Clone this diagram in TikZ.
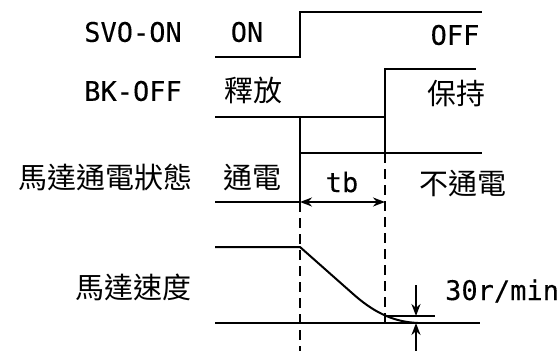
\documentclass[tikz,border=0pt]{standalone}
\usepackage{fontspec}
\setmainfont{Noto Sans CJK TC}
\newfontfamily\monofam[FakeBold=0.2]{DejaVu Sans Mono}
\usetikzlibrary{arrows.meta}
\tikzset{
  cjk/.style={inner sep=0pt,font=\fontsize{29}{32}\selectfont},
  lat/.style={inner sep=0pt,font=\monofam\fontsize{27}{30}\selectfont},
  wave/.style={line width=2pt},
  guide/.style={line width=2pt,dash pattern=on 10pt off 6pt},
  dimarrow/.style={line width=2pt,-{Stealth[length=12pt,width=9pt]}},
  dimboth/.style={line width=2pt,{Stealth[length=12pt,width=9pt]}-{Stealth[length=12pt,width=9pt]}}
}
\begin{document}
\begin{tikzpicture}[x=1pt,y=-1pt]
\useasboundingbox (0,0) rectangle (560,351);
% coordinates
\coordinate (t1a) at (300,57);
\coordinate (t1b) at (300,12);
\coordinate (t2a) at (385,117);
\coordinate (t2b) at (385,69);
% labels
\node[lat,anchor=east] (svo) at (182,32) {SVO-ON};
\node[lat] (on) at (247,32) {ON};
\node[lat] (off) at (455,35) {OFF};
\node[lat,anchor=east] (bk) at (182,91) {BK-OFF};
\node[cjk] (rel) at (253,90) {釋放};
\node[cjk] (hold) at (456,94) {保持};
\node[cjk,anchor=east] (mstate) at (193,177) {馬達通電狀態};
\node[cjk] (en) at (252,178) {通電};
\node[lat] (tb) at (342,182) {tb};
\node[cjk] (noen) at (463,184) {不通電};
\node[cjk,anchor=east] (mspeed) at (192,287) {馬達速度};
\node[lat,anchor=west] (spd) at (445,291) {30r/min};
% SVO-ON waveform
\draw[wave] (215,57) -- (t1a) -- (t1b) -- (482,12);
% BK-OFF waveform
\draw[wave] (215,117) -- (t2a) -- (t2b) -- (476,69);
% motor energized waveform
\coordinate (m1) at (300,202);
\coordinate (m2) at (300,153);
\draw[wave] (215,202) -- (m1) -- (m2) -- (482,153);
\draw[wave] (300,117) -- (m2);
\draw[wave] (t2a) -- (385,153);
% guides
\coordinate (g1) at (300,351);
\coordinate (g2top) at (385,153);
\coordinate (g2) at (385,323);
\draw[guide] (m1) -- (g1);
\draw[guide] (g2top) -- (g2);
% tb dimension
\draw[dimboth] (m1) -- (385,202);
% motor speed
\coordinate (s0) at (215,247);
\coordinate (s1) at (300,247);
\draw[wave] (s0) -- (s1) -- (352,293) .. controls (372,311) and (392,322) .. (418,323);
\draw[wave] (215,323) -- (480,323);
\draw[wave] (385,316) -- (435,316);
% 30r/min arrows
\coordinate (a1) at (416,285);
\coordinate (a1t) at (416,316);
\coordinate (a2) at (416,351);
\coordinate (a2t) at (416,323);
\draw[dimarrow] (a1) -- (a1t);
\draw[dimarrow] (a2) -- (a2t);
\end{tikzpicture}
\end{document}
